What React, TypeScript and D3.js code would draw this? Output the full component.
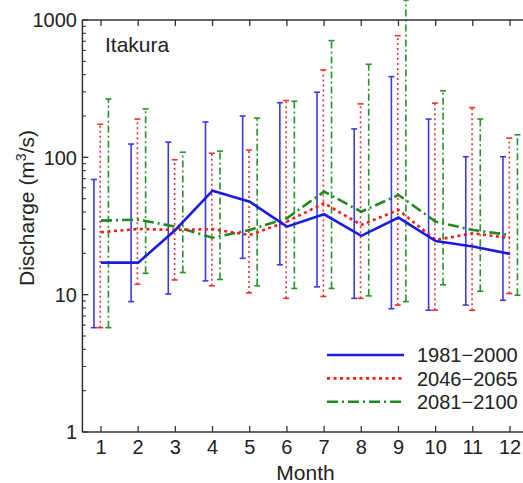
import React from "react";
import * as d3 from "d3";

const months = [1, 2, 3, 4, 5, 6, 7, 8, 9, 10, 11, 12];
const blueMean = [17.1, 17.1, 29.6, 57.2, 47.5, 31.3, 38.5, 26.8, 36.4, 24.6, 22.4, 19.8];
const blueHigh = [69, 125, 129, 181, 200, 250, 298, 161, 387, 190, 101, 101];
const blueLow = [5.75, 8.9, 10.1, 12.6, 18.4, 16.5, 11.4, 9.4, 7.9, 7.7, 8.4, 9.1];
const redMean = [28.5, 30.1, 29.6, 30, 27.2, 34, 46.4, 32.2, 41.4, 25, 28, 25.8];
const redHigh = [174, 190, 96, 107, 113, 259, 433, 245, 769, 248, 230, 138];
const redLow = [5.75, 11.9, 12.8, 11.6, 10.3, 9.4, 9.7, 9.4, 8.4, 7.7, 7.7, 10.2];
const greenMean = [34.6, 35.2, 31.3, 26, 29.6, 36, 56.3, 40.2, 53.2, 34, 29.6, 27.2];
const greenHigh = [266, 225, 109, 111, 193, 256, 708, 476, 1400, 305, 190, 146];
const greenLow = [5.75, 14.3, 14.5, 12.9, 11.6, 11.1, 11.1, 9.8, 8.9, 11.8, 10.6, 9.9];
const seriesNames = ["1981\u22122000", "2046\u22122065", "2081\u22122100"];
const yTicks = [1, 10, 100, 1000];

const W = 523, H = 483;
const FONT = "'Liberation Sans', Arial, sans-serif";

export default function App() {
  const x = d3.scaleLinear().domain([0.5, 12.5]).range([82.4, 528.6]);
  const y = d3.scaleLog().domain([1, 1000]).range([432, 20]);
  const series = [
    { name: seriesNames[0], mean: blueMean, hi: blueHigh, lo: blueLow, color: "#1c1ce0", barColor: "#3a3ae0", off: -0.19, dash: null, barDash: null },
    { name: seriesNames[1], mean: redMean, hi: redHigh, lo: redLow, color: "#ee1c1c", barColor: "#ee3030", off: -0.02, dash: "3,3.5", barDash: "2,3" },
    { name: seriesNames[2], mean: greenMean, hi: greenHigh, lo: greenLow, color: "#1f8a1f", barColor: "#279127", off: 0.2, dash: "11,4,2,4", barDash: "7,3,2,3" },
  ];
  const line = (vals: number[]) =>
    d3.line<number>().x((_, i) => x(months[i])).y((v) => y(v))(vals) || "";
  const minor: number[] = [];
  for (let e = 0; e < 3; e++) for (let k = 2; k <= 9; k++) minor.push(k * Math.pow(10, e));
  const x0 = x(0.5), yTop = y(1000), yBot = y(1);
  const axisColor = "#333";
  return (
    <svg width={W} height={H} style={{ position: "absolute", left: 0, top: 0, background: "#fff" }} fontFamily={FONT}>
      {/* error bars */}
      {series.map((s, si) => (
        <g key={"b" + si} stroke={s.barColor} strokeWidth={1.6} fill="none">
          {months.map((m, i) => {
            const cx = x(m + s.off);
            return (
              <g key={i}>
                <line x1={cx} x2={cx} y1={y(s.lo[i])} y2={y(s.hi[i])} strokeDasharray={s.barDash || undefined} />
                <line x1={cx - 3} x2={cx + 3} y1={y(s.lo[i])} y2={y(s.lo[i])} />
                <line x1={cx - 3} x2={cx + 3} y1={y(s.hi[i])} y2={y(s.hi[i])} />
              </g>
            );
          })}
        </g>
      ))}
      {/* mean lines */}
      {[2, 1, 0].map((si) => {
        const s = series[si];
        return <path key={"l" + si} d={line(s.mean)} fill="none" stroke={s.color} strokeWidth={2.6} strokeDasharray={s.dash || undefined} />;
      })}
      {/* axes */}
      <line x1={x0} x2={x0} y1={yTop} y2={yBot} stroke={axisColor} strokeWidth={1.5} />
      <line x1={x0} x2={W} y1={yBot} y2={yBot} stroke={axisColor} strokeWidth={1.5} />
      <line x1={x0} x2={W} y1={yTop} y2={yTop} stroke={axisColor} strokeWidth={1.5} />
      {months.map((m) => (
        <g key={"xt" + m} stroke={axisColor} strokeWidth={1.3}>
          <line x1={x(m)} x2={x(m)} y1={yBot} y2={yBot - 6} />
          <line x1={x(m)} x2={x(m)} y1={yTop} y2={yTop + 6} />
        </g>
      ))}
      {months.map((m) => (
        <text key={"xl" + m} x={x(m)} y={454} textAnchor="middle" fontSize={20} fill="#222">{m}</text>
      ))}
      {yTicks.map((t) => (
        <g key={"yt" + t}>
          <line x1={x0} x2={x0 + 6} y1={y(t)} y2={y(t)} stroke={axisColor} strokeWidth={1.3} />
          <text x={77} y={y(t)} dy="0.36em" textAnchor="end" fontSize={20} fill="#222">{t}</text>
        </g>
      ))}
      {minor.map((t, i) => (
        <line key={"mn" + i} x1={x0} x2={x0 + 3.5} y1={y(t)} y2={y(t)} stroke={axisColor} strokeWidth={1.1} />
      ))}
      {/* labels */}
      <text x={105} y={52} fontSize={21} fill="#222">Itakura</text>
      <text x={305.5} y={480} textAnchor="middle" fontSize={21} fill="#222">Month</text>
      <text transform={`translate(34,208) rotate(-90)`} textAnchor="middle" fontSize={21} fill="#222">
        Discharge (m<tspan dy={-8} fontSize={14}>3</tspan><tspan dy={8}>/s)</tspan>
      </text>
      {/* legend */}
      {series.map((s, si) => {
        const ly = 355 + si * 23.4;
        return (
          <g key={"lg" + si}>
            <line x1={327} x2={404} y1={ly} y2={ly} stroke={s.color} strokeWidth={2.6} strokeDasharray={s.dash || undefined} />
            <text x={417} y={ly} dy="0.36em" fontSize={20} fill="#222">{s.name}</text>
          </g>
        );
      })}
    </svg>
  );
}
